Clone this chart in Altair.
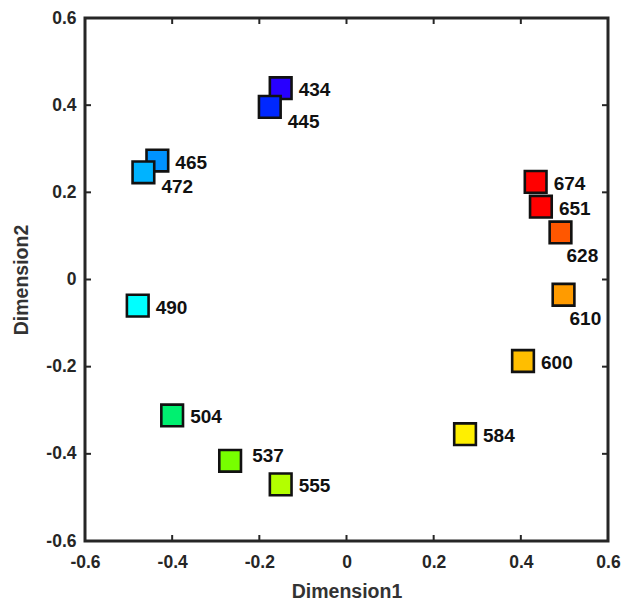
import altair as alt
import pandas as pd

# Wavelength labels (nm), in drawing order
labels = ["434", "445", "465", "472", "490", "504", "537", "555",
          "584", "600", "610", "628", "674", "651"]
dim1 = [-0.151, -0.176, -0.434, -0.466, -0.479, -0.400, -0.267, -0.151,
        0.272, 0.405, 0.498, 0.491, 0.434, 0.446]
dim2 = [0.439, 0.396, 0.273, 0.246, -0.060, -0.312, -0.416, -0.470,
        -0.355, -0.187, -0.035, 0.108, 0.224, 0.167]
colors = ["#2800ff", "#0028ff", "#0092ff", "#00b3ff", "#00ffff", "#00f070",
          "#77ff00", "#b3ff00", "#ffef00", "#ffbe00", "#ff9b00", "#ff5700",
          "#ff0000", "#ff0000"]
tick_values = [-0.6, -0.4, -0.2, 0, 0.2, 0.4, 0.6]
inner_ticks = [-0.4, -0.2, 0, 0.2, 0.4]

df = pd.DataFrame({"label": labels, "d1": dim1, "d2": dim2, "color": colors})
ticks_df = pd.DataFrame({"t": inner_ticks})

W, H = 523, 523
FONT = "Liberation Sans"
TXT = "#262626"
dom = [-0.6, 0.6]

label_expr = "datum.value == 0 ? '0' : (datum.value < 0 ? '-' : '') + format(abs(datum.value), '.1f')"

xscale = alt.Scale(domain=dom, nice=False, zero=False)
yscale = alt.Scale(domain=dom, nice=False, zero=False)

xenc = alt.X("d1:Q", scale=xscale,
             axis=alt.Axis(title="Dimension1", values=tick_values, labelExpr=label_expr,
                           ticks=False, tickSize=0, domain=False, grid=False,
                           labelPadding=12, titlePadding=12, labelFlush=False))
yenc = alt.Y("d2:Q", scale=yscale,
             axis=alt.Axis(title="Dimension2", values=tick_values, labelExpr=label_expr,
                           ticks=False, tickSize=0, domain=False, grid=False,
                           labelPadding=9, titlePadding=14, labelFlush=False))

base = alt.Chart(df)

points = base.mark_square(size=470, stroke="#111111", strokeWidth=2.6, opacity=1).encode(
    x=xenc, y=yenc,
    fill=alt.Fill("color:N", scale=None),
)

def text_layer(names, dx, dy):
    return base.transform_filter(
        alt.FieldOneOfPredicate(field="label", oneOf=names)
    ).mark_text(align="left", baseline="middle", dx=dx, dy=dy, font=FONT,
                fontWeight="bold", fontSize=19, color="#111111").encode(
        x=alt.X("d1:Q", scale=xscale), y=alt.Y("d2:Q", scale=yscale), text="label:N")

t_right = text_layer(["434", "465", "490", "504", "555", "674", "651", "600", "584"], 18, 2)
t_lowright = text_layer(["445", "472"], 18, 15)
t_upright = text_layer(["537"], 22, -5)
t_below = text_layer(["628", "610"], 6, 24)

tk = alt.Chart(ticks_df)
tick_color = "#262626"
bottom_t = tk.mark_rule(color=tick_color, strokeWidth=2).encode(
    x=alt.X("t:Q", scale=xscale), y=alt.value(H), y2=alt.value(H - 6))
top_t = tk.mark_rule(color=tick_color, strokeWidth=2).encode(
    x=alt.X("t:Q", scale=xscale), y=alt.value(0), y2=alt.value(6))
left_t = tk.mark_rule(color=tick_color, strokeWidth=2).encode(
    y=alt.Y("t:Q", scale=yscale), x=alt.value(0), x2=alt.value(6))
right_t = tk.mark_rule(color=tick_color, strokeWidth=2).encode(
    y=alt.Y("t:Q", scale=yscale), x=alt.value(W), x2=alt.value(W - 6))

chart = alt.layer(
    bottom_t, top_t, left_t, right_t, points, t_right, t_lowright, t_upright, t_below
).properties(
    width=W, height=H,
    autosize=alt.AutoSizeParams(type="none"),
    padding={"left": 77, "top": 10, "right": 14, "bottom": 62},
).configure_view(
    stroke=tick_color, strokeWidth=3
).configure_axis(
    labelFont=FONT, labelFontWeight="bold", labelFontSize=17.5, labelColor=TXT,
    titleFont=FONT, titleFontWeight="bold", titleFontSize=19.5, titleColor="#333333",
)

chart.save("out.html", embed_options={"renderer": "svg", "actions": False})
